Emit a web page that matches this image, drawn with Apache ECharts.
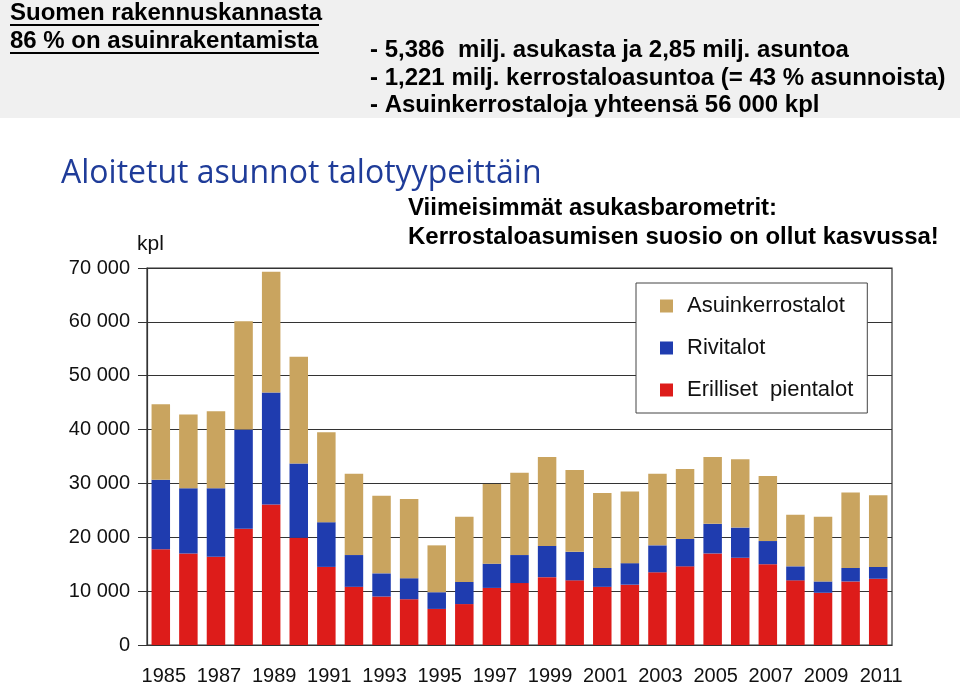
<!DOCTYPE html>
<html>
<head>
<meta charset="utf-8">
<script src="https://cdn.jsdelivr.net/npm/echarts@6/dist/echarts.min.js"></script>
<style>
html,body{margin:0;padding:0;background:#ffffff;}
#chart{width:960px;height:692px;}
</style>
</head>
<body>
<div id="chart"></div>
<script>
const years = ['1985','1986','1987','1988','1989','1990','1991','1992','1993','1994','1995','1996','1997','1998','1999','2000','2001','2002','2003','2004','2005','2006','2007','2008','2009','2010','2011'];
const erillisetPientalot = [17800,17000,16400,21600,26100,19900,14500,10800,9000,8500,6700,7600,10600,11500,12600,12000,10800,11200,13500,14600,17000,16200,15000,12000,9700,11800,12300];
const rivitalot = [12900,12100,12700,18400,20800,13800,8300,5900,4300,3900,3100,4100,4500,5200,5800,5300,3500,4000,5000,5100,5500,5600,4300,2600,2100,2500,2200];
const asuinkerrostalot = [14000,13700,14300,20100,22400,19800,16700,15100,14400,14700,8700,12100,14800,15300,16500,15200,13900,13300,13300,13000,12400,12700,12100,9600,12000,14000,13300];
const yTicks = [0,10000,20000,30000,40000,50000,60000,70000];

const chart = echarts.init(document.getElementById('chart'));
const F = '"Liberation Sans", Arial, sans-serif';
const option = {
  backgroundColor: '#ffffff',
  animation: false,
  title: {
    text: 'Aloitetut asunnot talotyypeittäin',
    left: 56, top: 153,
    textStyle: {fontFamily: '"Open Sans", sans-serif', fontSize: 32, fontWeight: 'normal', color: '#1f3c99'}
  },
  legend: {
    orient: 'vertical',
    left: 636, top: 283,
    data: ['Asuinkerrostalot','Rivitalot','Erilliset  pientalot'],
    itemWidth: 13, itemHeight: 13, itemGap: 20,
    icon: 'rect',
    backgroundColor: '#ffffff',
    borderColor: '#444', borderWidth: 1,
    padding: [12, 14, 12, 24],
    textStyle: {fontFamily: F, fontSize: 22, color: '#111', padding: [0,0,0,9]}
  },
  grid: {left: 147, right: 68, top: 268, bottom: 47, show: true, borderColor: '#333', borderWidth: 1.2, backgroundColor: 'transparent'},
  xAxis: {
    type: 'category', data: years,
    axisLine: {lineStyle: {color: '#333', width: 1.2}},
    axisTick: {interval: 0, length: 5, lineStyle: {color: '#333'}},
    axisLabel: {interval: 1, fontFamily: F, fontSize: 20, color: '#111', margin: 21, padding: [0,0,0,6]}
  },
  yAxis: {
    type: 'value', min: 0, max: 70000, interval: 10000,
    axisLine: {show: true, lineStyle: {color: '#333', width: 1.2}},
    axisTick: {show: true, length: 9, lineStyle: {color: '#333'}},
    splitLine: {lineStyle: {color: '#333', width: 1.2}},
    axisLabel: {fontFamily: F, fontSize: 20, color: '#111', margin: 17,
      formatter: v => v === 0 ? '0' : (v/1000) + ' 000'}
  },
  series: [
    {name: 'Erilliset  pientalot', type: 'bar', stack: 'a', data: erillisetPientalot, itemStyle: {color: '#dd1c1a'}, barCategoryGap: '33%'},
    {name: 'Rivitalot', type: 'bar', stack: 'a', data: rivitalot, itemStyle: {color: '#1f3caf'}},
    {name: 'Asuinkerrostalot', type: 'bar', stack: 'a', data: asuinkerrostalot, itemStyle: {color: '#c9a45f'}}
  ],
  graphic: [
    {type: 'rect', left: 0, top: 0, shape: {width: 960, height: 118}, style: {fill: '#f0f0f0'}, z: -10},
    {type: 'text', x: 10, y: 1, style: {text: 'Suomen rakennuskannasta', font: 'bold 24px ' + F, fill: '#000'}},
    {type: 'line', shape: {x1: 10, y1: 25, x2: 319, y2: 25}, style: {stroke: '#000', lineWidth: 2}},
    {type: 'text', x: 10, y: 29, style: {text: '86 % on asuinrakentamista', font: 'bold 24px ' + F, fill: '#000'}},
    {type: 'line', shape: {x1: 10, y1: 53, x2: 319, y2: 53}, style: {stroke: '#000', lineWidth: 2}},
    {type: 'text', x: 370, y: 38, style: {text: '- 5,386  milj. asukasta ja 2,85 milj. asuntoa', font: 'bold 24px ' + F, fill: '#000'}},
    {type: 'text', x: 370, y: 66, style: {text: '- 1,221 milj. kerrostaloasuntoa (= 43 % asunnoista)', font: 'bold 24px ' + F, fill: '#000'}},
    {type: 'text', x: 370, y: 93, style: {text: '- Asuinkerrostaloja yhteensä 56 000 kpl', font: 'bold 24px ' + F, fill: '#000'}},
    {type: 'text', x: 137, y: 234, style: {text: 'kpl', font: '21px ' + F, fill: '#111'}},
    {type: 'text', x: 408, y: 196, style: {text: 'Viimeisimmät asukasbarometrit:', font: 'bold 24px ' + F, fill: '#000'}},
    {type: 'text', x: 408, y: 225, style: {text: 'Kerrostaloasumisen suosio on ollut kasvussa!', font: 'bold 24px ' + F, fill: '#000'}}
  ]
};
chart.setOption(option);
</script>
</body>
</html>
